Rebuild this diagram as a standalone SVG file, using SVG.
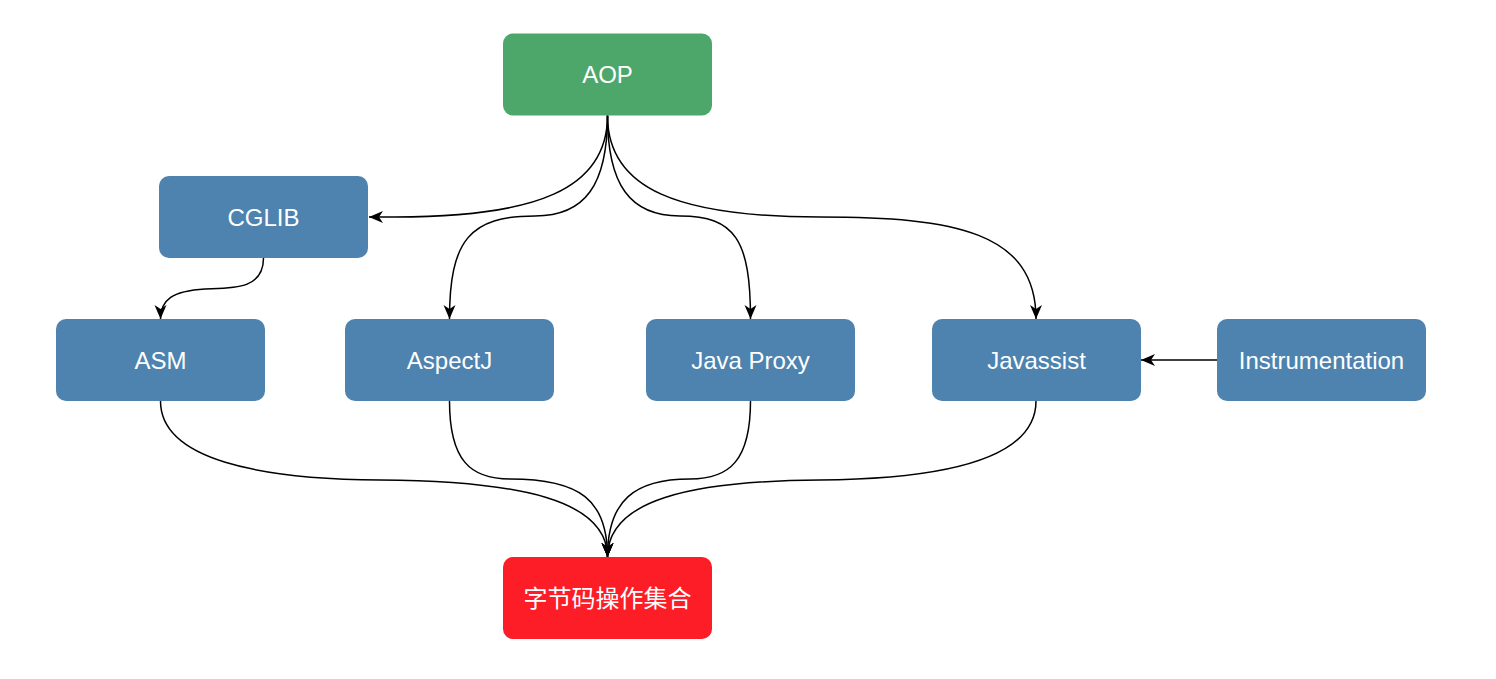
<svg xmlns="http://www.w3.org/2000/svg" width="1496" height="679" viewBox="0 0 1496 679">
<style>
.node rect{stroke:none}
.blue rect{fill:#4D83AE}
.green rect{fill:#4DA76A}
.red rect{fill:#FC1D27}
.node text{fill:#FFFFFF;font-family:"Liberation Sans","Noto Sans CJK SC",sans-serif;font-size:24px;text-anchor:middle}
.edge{fill:none;stroke:#000000;stroke-width:1.5;marker-end:url(#arrow)}
</style>
<defs>
<marker id="arrow" markerUnits="userSpaceOnUse" markerWidth="15" markerHeight="14" refX="14" refY="7" orient="auto" viewBox="0 0 15 14">
<path d="M0,1 L14,7 L0,13 L4,7 Z" fill="#000000"/>
</marker>
</defs>
<rect width="1496" height="679" fill="#FFFFFF"/>
<g id="connectors">
<path class="edge" d="M607.5,115.5 C607.5,190 535,217 395,217 L369,217"/>
<path class="edge" d="M607.5,115.5 C607.5,185 585,216 535,216 C470,216 449.5,240 449.5,319"/>
<path class="edge" d="M607.5,115.5 C607.5,185 630,216 680,216 C735,216 750.5,240 750.5,319"/>
<path class="edge" d="M607.5,115.5 C607.5,190 680,217 820,217 C955,217 1036,232 1036,319"/>
<path class="edge" d="M263.5,258 C263.5,290 232,288 205,289 C172,291 160.5,300 160.5,319"/>
<path class="edge" d="M1217,360 L1141,360"/>
<path class="edge" d="M160.5,401 C160.5,460 260,479 380,480 C520,481 607.5,500 607.5,557"/>
<path class="edge" d="M449.5,401 C449.5,460 470,479 510,479 C580,479 607.5,500 607.5,557"/>
<path class="edge" d="M750.5,401 C750.5,460 730,479 690,479 C635,479 607.5,500 607.5,557"/>
<path class="edge" d="M1036,401 C1036,460 940,479 820,480 C690,481 607.5,500 607.5,557"/>
</g>
<g id="node-aop" class="node green"><rect x="503" y="33.5" width="209" height="82" rx="10"/><text x="607.5" y="83">AOP</text></g>
<g id="node-cglib" class="node blue"><rect x="159" y="176" width="209" height="82" rx="10"/><text x="263.5" y="226">CGLIB</text></g>
<g id="node-asm" class="node blue"><rect x="56" y="319" width="209" height="82" rx="10"/><text x="160.5" y="369">ASM</text></g>
<g id="node-aspectj" class="node blue"><rect x="345" y="319" width="209" height="82" rx="10"/><text x="449.5" y="369">AspectJ</text></g>
<g id="node-javaproxy" class="node blue"><rect x="646" y="319" width="209" height="82" rx="10"/><text x="750.5" y="369">Java Proxy</text></g>
<g id="node-javassist" class="node blue"><rect x="932" y="319" width="209" height="82" rx="10"/><text x="1036.5" y="369">Javassist</text></g>
<g id="node-instrumentation" class="node blue"><rect x="1217" y="319" width="209" height="82" rx="10"/><text x="1321.5" y="369">Instrumentation</text></g>
<g id="node-bytecode" class="node red"><rect x="503" y="557" width="209" height="82" rx="10"/><text x="607.5" y="607">字节码操作集合</text></g>
</svg>
